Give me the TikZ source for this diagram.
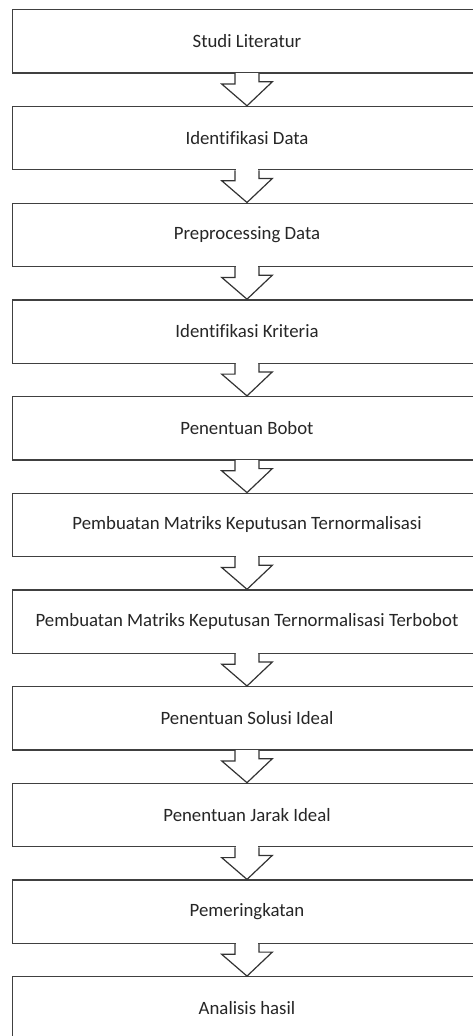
\documentclass[tikz,border=0pt]{standalone}
\usepackage{fontspec}
\setmainfont{Carlito}[Ligatures=CommonOff]
\usetikzlibrary{calc}
\tikzset{
  stepbox/.style={draw=black!75, line width=1.3pt, fill=white, minimum width=468.6pt, minimum height=63.3pt, inner sep=0pt, anchor=center, font=\fontsize{18.8}{22}\selectfont, text=black!85},
  flowarrow/.style={draw=black!80, line width=1.2pt, fill=white, line join=miter},
}
\begin{document}
\begin{tikzpicture}[x=1pt,y=-1pt]
\useasboundingbox (0,0) rectangle (473,1036);
\clip (0,0) rectangle (473,1036);
\fill[white] (0,0) rectangle (473,1036);
\def\pitch{96.7}
\foreach \i/\t in {1/Studi Literatur,2/Identifikasi Data,3/Preprocessing Data,4/Identifikasi Kriteria,5/Penentuan Bobot,6/Pembuatan Matriks Keputusan Ternormalisasi,7/Pembuatan Matriks Keputusan Ternormalisasi Terbobot,8/Penentuan Solusi Ideal,9/Penentuan Jarak Ideal,10/Pemeringkatan,11/Analisis hasil}{
  \node[stepbox] (b\i) at (247, {41.4+(\i-1)*\pitch}) {\t};
}
\foreach \i [evaluate=\i as \j using int(\i+1)] in {1,...,10}{
  \fill[white] ($(b\i.south)+(-11.4,-1)$) rectangle ($(b\i.south)+(11.4,3)$);
  \draw[flowarrow] ($(b\i.south)+(-12,0)$) -- ++(0,10.3) -- ++(-13.3,0) -- (b\j.north) -- ++(25.3,-24) -- ++(-13.3,0) -- ($(b\i.south)+(12,0)$);
}
\end{tikzpicture}
\end{document}
